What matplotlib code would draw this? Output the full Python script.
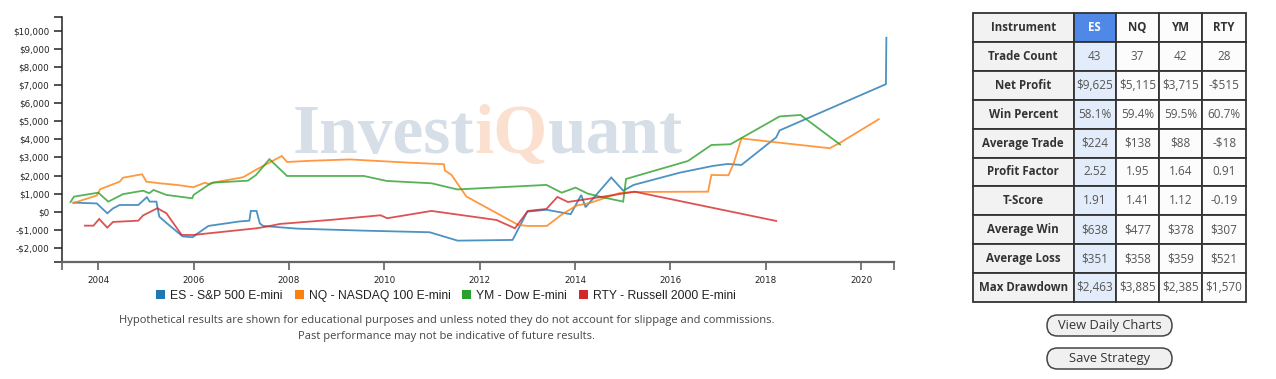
import matplotlib
matplotlib.use("Agg")
import matplotlib.pyplot as plt
from matplotlib.patches import Rectangle, FancyBboxPatch, Patch
from matplotlib.transforms import IdentityTransform

# ---------------- data ----------------
es_t = [2003.48, 2003.97, 2004.19, 2004.31, 2004.45, 2004.84, 2005.02, 2005.08, 2005.22, 2005.28,
        2005.42, 2005.77, 2005.98, 2006.07, 2006.31, 2006.97, 2007.17, 2007.20, 2007.32, 2007.39,
        2007.46, 2008.17, 2009.55, 2010.95, 2011.54, 2012.69, 2013.00, 2013.40, 2013.91, 2014.13,
        2014.22, 2014.76, 2015.01, 2015.23, 2016.20, 2016.89, 2017.20, 2017.49, 2018.22, 2018.29,
        2020.52, 2020.53]
es_v = [500, 455, -90, 180, 370, 370, 800, 555, 555, -275,
        -600, -1370, -1415, -1235, -790, -540, -500, 40, 40, -655,
        -790, -940, -1050, -1140, -1605, -1565, 0, 105, -140, 925,
        245, 1890, 1160, 1480, 2160, 2530, 2640, 2585, 4115, 4495,
        7055, 9625]

nq_t = [2003.48, 2003.97, 2004.04, 2004.45, 2004.52, 2004.92, 2005.01, 2005.29, 2005.65, 2005.99,
        2006.24, 2006.31, 2006.40, 2007.04, 2007.32, 2007.85, 2007.96, 2008.50, 2009.28, 2010.53,
        2011.25, 2011.27, 2011.41, 2011.72, 2012.81, 2013.01, 2013.41, 2013.74, 2014.04, 2014.31,
        2014.94, 2015.23, 2016.79, 2016.86, 2017.22, 2017.33, 2017.49, 2019.34, 2019.55, 2020.37]
nq_v = [480, 895, 1240, 1660, 1880, 2070, 1660, 1570, 1480, 1350,
        1605, 1530, 1605, 1905, 2335, 3080, 2750, 2820, 2890, 2710,
        2625, 2280, 2030, 840, -735, -790, -790, -125, 345, 480,
        1035, 1090, 1105, 2030, 2015, 2695, 4050, 3510, 3800, 5115]

ym_t = [2003.42, 2003.49, 2004.00, 2004.21, 2004.31, 2004.52, 2004.94, 2005.07, 2005.16, 2005.43,
        2005.97, 2006.00, 2006.31, 2006.41, 2007.14, 2007.31, 2007.59, 2007.96, 2009.57, 2010.05,
        2010.99, 2011.53, 2013.40, 2013.72, 2014.01, 2014.26, 2014.52, 2015.01, 2015.07, 2016.37,
        2016.86, 2017.26, 2018.29, 2018.73, 2019.56]
ym_v = [535, 830, 1050, 555, 685, 970, 1160, 1020, 1200, 925,
        740, 925, 1480, 1605, 1715, 2030, 2905, 1975, 1975, 1700,
        1570, 1230, 1480, 1050, 1330, 1005, 830, 555, 1810, 2805,
        3690, 3730, 5270, 5350, 3715]

rty_t = [2003.72, 2003.90, 2004.02, 2004.19, 2004.31, 2004.84, 2004.94, 2005.24, 2005.43, 2005.75,
         2005.99, 2007.32, 2007.53, 2007.81, 2008.86, 2009.92, 2010.06, 2010.99, 2012.35, 2012.74,
         2013.01, 2013.40, 2013.63, 2013.85, 2014.59, 2015.25, 2018.22]
rty_v = [-775, -775, -405, -885, -570, -500, -210, 190, -90, -1290,
         -1290, -920, -830, -680, -460, -200, -365, 40, -460, -920,
         40, 150, 815, 535, 830, 1105, -515]

series_labels = ["ES - S&P 500 E-mini", "NQ - NASDAQ 100 E-mini", "YM - Dow E-mini",
                 "RTY - Russell 2000 E-mini"]
series_colors = ["#1f77b4", "#ff7f0e", "#2ca02c", "#d62728"]

x_ticks = [2004, 2006, 2008, 2010, 2012, 2014, 2016, 2018, 2020]
y_ticks = [-2000, -1000, 0, 1000, 2000, 3000, 4000, 5000, 6000, 7000, 8000, 9000, 10000]

table_cols = ["Instrument", "ES", "NQ", "YM", "RTY"]
table_rows = ["Trade Count", "Net Profit", "Win Percent", "Average Trade", "Profit Factor",
              "T-Score", "Average Win", "Average Loss", "Max Drawdown"]
table_vals = [
    ["43", "37", "42", "28"],
    ["$9,625", "$5,115", "$3,715", "-$515"],
    ["58.1%", "59.4%", "59.5%", "60.7%"],
    ["$224", "$138", "$88", "-$18"],
    ["2.52", "1.95", "1.64", "0.91"],
    ["1.91", "1.41", "1.12", "-0.19"],
    ["$638", "$477", "$378", "$307"],
    ["$351", "$358", "$359", "$521"],
    ["$2,463", "$3,885", "$2,385", "$1,570"],
]

footnote = ["Hypothetical results are shown for educational purposes and unless noted they do not account for slippage and commissions.",
            "Past performance may not be indicative of future results."]
buttons = ["View Daily Charts", "Save Strategy"]

# ---------------- figure ----------------
W, H = 1276, 379
fig = plt.figure(figsize=(W / 100, H / 100), dpi=100)
fig.patch.set_facecolor("white")

ax = fig.add_axes([62 / W, 1 - 261.7 / H, 832 / W, 245 / H])
ax.set_facecolor("none")
ax.set_xlim(2003.24, 2020.69)
ax.set_ylim(-2770, 10790)

for t, v, c in zip([es_t, nq_t, ym_t, rty_t], [es_v, nq_v, ym_v, rty_v], series_colors):
    ax.plot(t, v, color=c, lw=1.3, alpha=0.8, zorder=3, solid_joinstyle="miter")

for s in ["top", "right"]:
    ax.spines[s].set_visible(False)
ax.spines["left"].set_color("#222222")
ax.spines["left"].set_linewidth(1.1)
ax.spines["bottom"].set_color("#666666")
ax.spines["bottom"].set_linewidth(1.6)

ax.set_xticks(x_ticks)
ax.set_xticklabels([str(x) for x in x_ticks])
ax.set_yticks(y_ticks)
ax.set_yticklabels([("-$" if v < 0 else "$") + f"{abs(v):,}" for v in y_ticks])
ax.set_xticks(list(ax.get_xlim()), minor=True)
ax.set_yticks(list(ax.get_ylim()), minor=True)
ax.tick_params(axis="both", which="both", length=6, width=1.1, colors="#222222",
               labelsize=6.3, pad=3)
ax.tick_params(axis="x", which="both", color="#555555", pad=4)

# watermark
renderer = fig.canvas.get_renderer()
wm_x, wm_y = 293, H - 153
parts = [("Invest", "#d6dee8"), ("iQ", "#fbe0d0"), ("uant", "#d6dee8")]
for txt, col in parts:
    t = fig.text(wm_x, wm_y, txt, transform=IdentityTransform(), fontsize=50,
                 family="Liberation Serif", weight="bold", color=col, va="baseline",
                 ha="left", zorder=0.5)
    bb = t.get_window_extent(renderer=renderer)
    wm_x = bb.x1

# legend
handles = [Patch(facecolor=c, edgecolor="none", label=l) for c, l in zip(series_colors, series_labels)]
fig.legend(handles=handles, loc="center", bbox_to_anchor=(446 / W, 1 - 296 / H), ncol=4,
           frameon=False, prop={"family": "Liberation Sans", "size": 8.7},
           handlelength=0.75, handleheight=0.75, handletextpad=0.4, columnspacing=1.0,
           labelcolor="#222222")

# overlay in pixel coordinates
ov = fig.add_axes([0, 0, 1, 1])
ov.set_xlim(0, W)
ov.set_ylim(H, 0)
ov.axis("off")
ov.patch.set_alpha(0)

for i, line in enumerate(footnote):
    ov.text(447, 320 + 16 * i, line, ha="center", va="center", family="Open Sans",
            fontsize=8.0, color="#444444")

# table
col_x = [973, 1073.5, 1116, 1159.3, 1202.3, 1246]
row_top = 12.7
row_h = 28.96
n_rows = len(table_rows) + 1
for r in range(n_rows):
    y0 = row_top + r * row_h
    for c in range(len(table_cols)):
        x0 = col_x[c]
        w = col_x[c + 1] - x0
        if c == 0:
            fc = "#f2f2f2"
        elif c == 1:
            fc = "#4f88e6" if r == 0 else "#e3ecfb"
        else:
            fc = "#fcfcfc"
        ov.add_patch(Rectangle((x0, y0), w, row_h, facecolor=fc, edgecolor="#333333", lw=1.3))
        if r == 0:
            txt = table_cols[c]
            ov.text(x0 + w / 2, y0 + row_h / 2, txt, ha="center", va="center", family="Open Sans",
                    weight="bold", fontsize=8.3, color="white" if c == 1 else "#333333")
        elif c == 0:
            ov.text(x0 + w / 2, y0 + row_h / 2, table_rows[r - 1], ha="center", va="center",
                    family="Open Sans", weight="bold", fontsize=8.3, color="#333333")
        else:
            ov.text(x0 + w / 2, y0 + row_h / 2, table_vals[r - 1][c - 1], ha="center", va="center",
                    family="Open Sans", fontsize=8.5, color="#555555")

# buttons
for i, b in enumerate(buttons):
    yc = 325.5 + 33 * i
    ov.add_patch(FancyBboxPatch((1047, yc - 10.5), 125, 21,
                                boxstyle="round,pad=0,rounding_size=10.5",
                                facecolor="#f0f0f0", edgecolor="#444444", lw=1.1))
    ov.text(1109.5, yc, b, ha="center", va="center", family="Open Sans", fontsize=9.3,
            color="#333333")

fig.savefig("out.png", dpi=100, facecolor="white")
